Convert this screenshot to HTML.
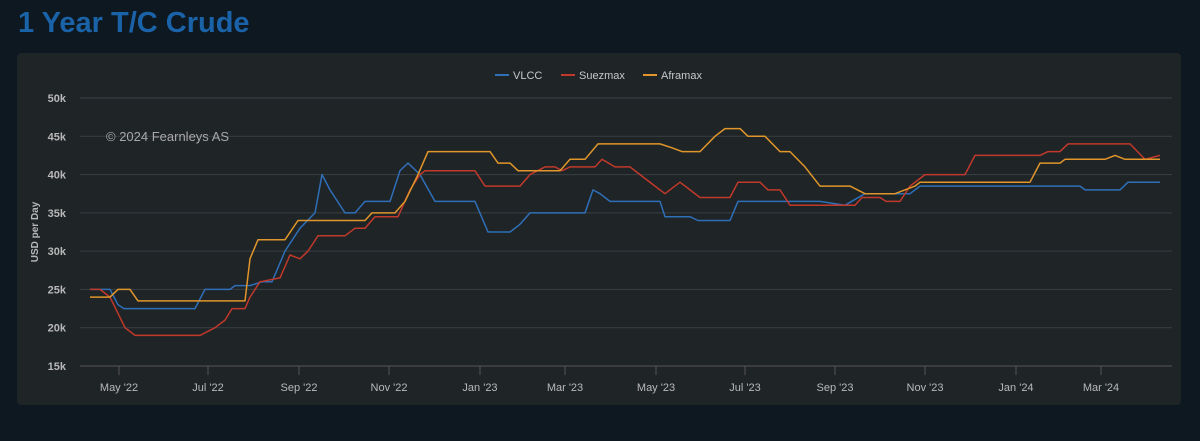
<!DOCTYPE html>
<html><head><meta charset="utf-8"><style>
body{margin:0;width:1200px;height:441px;background:#0e1821;font-family:"Liberation Sans",sans-serif;overflow:hidden}
h1{position:absolute;left:18px;top:7px;margin:0;font-size:29px;color:#1b63a8;font-weight:bold}
#p{position:absolute;left:17px;top:53px;width:1164px;height:352px;background:#1f2427;border-radius:4px}
svg{position:absolute;left:0;top:0}
</style></head><body>
<h1>1 Year T/C Crude</h1>
<div id="p"></div>
<svg width="1200" height="441" id="s" font-family="Liberation Sans, sans-serif"></svg>
<script>
const s=document.getElementById('s');let h='';
const Y=v=>98+(50-v)*7.657;
for(let v=15;v<=50;v+=5){const y=Y(v);h+=`<line x1="80" x2="1172" y1="${y}" y2="${y}" stroke="${v==15?'#555':'#3a3f43'}" stroke-width="1"/>`;
h+=`<text x="66" y="${y+4}" fill="#b8b8b8" font-size="11" font-weight="bold" text-anchor="end">${v}k</text>`}
const xt=[[119,"May '22"],[208,"Jul '22"],[299,"Sep '22"],[389,"Nov '22"],[480,"Jan '23"],[565,"Mar '23"],[656,"May '23"],[745,"Jul '23"],[835,"Sep '23"],[925,"Nov '23"],[1016,"Jan '24"],[1101,"Mar '24"]];
xt.forEach(([x,t])=>{h+=`<line x1="${x}" x2="${x}" y1="366" y2="375" stroke="#555"/><text x="${x}" y="391" fill="#b8b8b8" font-size="11" text-anchor="middle">${t}</text>`});
h+=`<text x="106" y="141" fill="#a8a8a8" font-size="13">© 2024 Fearnleys AS</text>`;
h+=`<text transform="translate(38,232) rotate(-90)" fill="#b8b8b8" font-size="10" font-weight="bold" text-anchor="middle">USD per Day</text>`;
const L=[[495,'#2f6fb8','VLCC'],[561,'#c0392b','Suezmax'],[643,'#e0962a','Aframax']];
L.forEach(([x,c,t])=>{h+=`<line x1="${x}" x2="${x+14}" y1="75" y2="75" stroke="${c}" stroke-width="2"/><text x="${x+18}" y="79" fill="#c8c8c8" font-size="11">${t}</text>`});
const D={
'#2f6fb8':[90,25,110,25,118,23,124,22.5,195,22.5,205,25,230,25,235,25.5,250,25.5,262,26,272,26,285,30,300,33,315,35,322,40,330,38,345,35,355,35,365,36.5,390,36.5,400,40.5,408,41.5,420,40,435,36.5,475,36.5,488,32.5,510,32.5,520,33.5,530,35,585,35,593,38,600,37.5,610,36.5,660,36.5,665,34.5,690,34.5,698,34,730,34,738,36.5,820,36.5,845,36,865,37.5,910,37.5,920,38.5,1080,38.5,1085,38,1120,38,1128,39,1160,39],
'#c0392b':[90,25,100,25,110,24,125,20,135,19,200,19,215,20,225,21,232,22.5,245,22.5,250,24,260,26,280,26.5,290,29.5,300,29,308,30,318,32,345,32,355,33,365,33,375,34.5,398,34.5,410,38,420,40,425,40.5,475,40.5,485,38.5,520,38.5,530,40,545,41,555,41,562,40.5,570,41,595,41,602,42,615,41,630,41,640,40,655,38.5,665,37.5,680,39,690,38,700,37,730,37,738,39,760,39,768,38,780,38,790,36,855,36,862,37,880,37,886,36.5,900,36.5,910,38.5,925,40,965,40,975,42.5,1040,42.5,1048,43,1060,43,1068,44,1130,44,1145,42,1160,42.5],
'#e0962a':[90,24,110,24,118,25,130,25,138,23.5,245,23.5,250,29,258,31.5,285,31.5,298,34,365,34,372,35,395,35,405,36.5,418,40,428,43,490,43,498,41.5,510,41.5,518,40.5,560,40.5,570,42,585,42,598,44,660,44,672,43.5,682,43,700,43,715,45,725,46,740,46,748,45,765,45,780,43,790,43,805,41,820,38.5,850,38.5,865,37.5,895,37.5,915,38.5,920,39,1030,39,1040,41.5,1060,41.5,1065,42,1105,42,1115,42.5,1125,42,1160,42]};
for(const c in D){const a=D[c];let p=[];for(let i=0;i<a.length;i+=2)p.push(a[i]+','+Y(a[i+1]).toFixed(1));
h+=`<polyline points="${p.join(' ')}" fill="none" stroke="${c}" stroke-width="1.5" stroke-linejoin="round"/>`}
s.innerHTML=h;
</script>
</body></html>
